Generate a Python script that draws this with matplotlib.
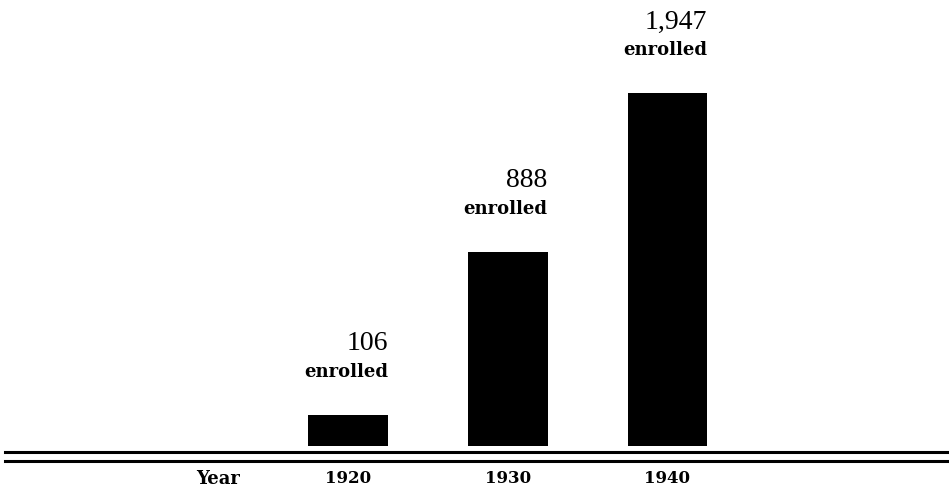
import matplotlib
matplotlib.use('Agg')
import matplotlib.pyplot as plt
import numpy as np

# data
years = ['1920', '1930', '1940']
enrolled = [106, 888, 1947]
# bars in the original are not drawn to scale, so keep their drawn heights
bar_heights = [31, 194, 353]
number_labels = ['106', '888', '1,947']

x = np.arange(1, len(years) + 1)
bar_w = 0.5

fig = plt.figure(figsize=(9.49, 4.93), dpi=100)
ax = fig.add_axes([0, 0, 1, 1])
ax.set_xlim(-1.178, 4.762)
ax.set_ylim(-47, 446)
ax.axis('off')

ax.bar(x, bar_heights, width=bar_w, color='black', linewidth=0)

# labels over each bar, right aligned to the bar edge
for xi, h, lab in zip(x, bar_heights, number_labels):
    ax.annotate(lab, (xi + bar_w / 2, h), xytext=(0, 46.5), textcoords='offset points',
                ha='right', va='baseline', fontsize=20, family='Liberation Serif')
    ax.annotate('enrolled', (xi + bar_w / 2, h), xytext=(0, 27.5), textcoords='offset points',
                ha='right', va='baseline', fontsize=13, family='DejaVu Serif', fontweight='bold')

# double base rule
ax.axhline(-5.5, xmin=0.005, xmax=1, color='black', lw=2.2)
ax.axhline(-15, xmin=0.005, xmax=1, color='black', lw=2.2)

# year row
ax.text(0.19, -32.5, 'Year', ha='center', va='center', fontsize=13,
        family='DejaVu Serif', fontweight='bold')
for xi, yr in zip(x, years):
    ax.text(xi, -32.5, yr, ha='center', va='center', fontsize=12,
            family='DejaVu Serif', fontweight='bold')

fig.savefig('out.png', dpi=100, facecolor='white')
